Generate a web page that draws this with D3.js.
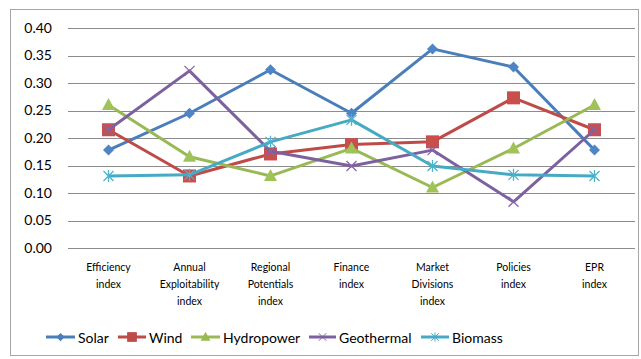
<!DOCTYPE html>
<html>
<head>
<meta charset="utf-8">
<script src="https://cdn.jsdelivr.net/npm/d3@7"></script>
<style>
  html, body { margin: 0; padding: 0; background: #fff; }
  svg { display: block; }
  text { font-family: Lato, "Open Sans", sans-serif; fill: #000; }
</style>
</head>
<body>
<svg id="chart" width="641" height="359"></svg>
<script>
const categories = [
  ["Efficiency", "index"],
  ["Annual", "Exploitability", "index"],
  ["Regional", "Potentials", "index"],
  ["Finance", "index"],
  ["Market", "Divisions", "index"],
  ["Policies", "index"],
  ["EPR", "index"]
];
const seriesNames = ["Solar", "Wind", "Hydropower", "Geothermal", "Biomass"];
const solar      = [0.178, 0.245, 0.324, 0.245, 0.362, 0.329, 0.178];
const wind       = [0.215, 0.131, 0.171, 0.188, 0.193, 0.273, 0.215];
const hydropower = [0.260, 0.166, 0.131, 0.181, 0.110, 0.181, 0.260];
const geothermal = [0.215, 0.322, 0.176, 0.149, 0.178, 0.084, 0.215];
const biomass    = [0.131, 0.133, 0.193, 0.233, 0.149, 0.133, 0.131];
const yTicks = [0, 0.05, 0.10, 0.15, 0.20, 0.25, 0.30, 0.35, 0.40];

const seriesValues = [solar, wind, hydropower, geothermal, biomass];
const colors = ["#4A7EBB", "#BE4B48", "#98B954", "#7D60A0", "#46AAC5"];
const markerTypes = ["diamond", "square", "triangle", "x", "star"];

const svg = d3.select("#chart");

// outer frame
svg.append("rect")
  .attr("x", 10.5).attr("y", 9.5)
  .attr("width", 628).attr("height", 346)
  .attr("fill", "none").attr("stroke", "#A6A6A6").attr("stroke-width", 1);

const plotLeft = 68, plotRight = 635, plotTop = 28, plotBottom = 248;

const x = d3.scalePoint()
  .domain(d3.range(categories.length))
  .range([plotLeft, plotRight])
  .padding(0.5);

const y = d3.scaleLinear().domain([0, 0.4]).range([plotBottom, plotTop]);

// gridlines
svg.append("g")
  .selectAll("line")
  .data(yTicks)
  .join("line")
  .attr("x1", plotLeft).attr("x2", plotRight)
  .attr("y1", d => Math.round(y(d)) + 0.5)
  .attr("y2", d => Math.round(y(d)) + 0.5)
  .attr("stroke", "#8C8C8C").attr("stroke-width", 1);

// y axis labels
const yAxis = d3.axisLeft(y).tickValues(yTicks).tickFormat(d3.format(".2f")).tickSize(0).tickPadding(0);
const yg = svg.append("g").attr("transform", `translate(${plotLeft - 16},0)`).call(yAxis);
yg.select(".domain").remove();
yg.selectAll("text")
  .attr("font-size", 14)
  .attr("font-family", "Lato, 'Open Sans', sans-serif")
  .attr("fill", "#000");

// category labels
const xg = svg.append("g");
categories.forEach((lines, i) => {
  const t = xg.append("text")
    .attr("x", x(i))
    .attr("y", 271)
    .attr("text-anchor", "middle")
    .attr("font-size", 10.5);
  lines.forEach((ln, j) => {
    t.append("tspan").attr("x", x(i)).attr("dy", j === 0 ? 0 : 17).text(ln);
  });
});

function drawMarker(g, type, color, cx, cy) {
  if (type === "diamond") {
    g.append("path")
      .attr("d", `M${cx},${cy - 5.5}L${cx + 5.5},${cy}L${cx},${cy + 5.5}L${cx - 5.5},${cy}Z`)
      .attr("fill", color);
  } else if (type === "square") {
    g.append("rect")
      .attr("x", cx - 6.5).attr("y", cy - 6.5)
      .attr("width", 13).attr("height", 13)
      .attr("fill", color);
  } else if (type === "triangle") {
    g.append("path")
      .attr("d", `M${cx},${cy - 7}L${cx + 6.5},${cy + 5}L${cx - 6.5},${cy + 5}Z`)
      .attr("fill", color);
  } else if (type === "x") {
    g.append("path")
      .attr("d", `M${cx - 5},${cy - 5}L${cx + 5},${cy + 5}M${cx - 5},${cy + 5}L${cx + 5},${cy - 5}`)
      .attr("stroke", color).attr("stroke-width", 1.3).attr("fill", "none");
  } else if (type === "star") {
    g.append("path")
      .attr("d", `M${cx - 5},${cy - 5}L${cx + 5},${cy + 5}M${cx - 5},${cy + 5}L${cx + 5},${cy - 5}M${cx},${cy - 6}L${cx},${cy + 6}`)
      .attr("stroke", color).attr("stroke-width", 1.3).attr("fill", "none");
  }
}

const line = d3.line().x((d, i) => x(i)).y(d => y(d));

seriesValues.forEach((vals, s) => {
  const g = svg.append("g");
  g.append("path")
    .datum(vals)
    .attr("d", line)
    .attr("fill", "none")
    .attr("stroke", colors[s])
    .attr("stroke-width", 3)
    .attr("stroke-linejoin", "round");
  vals.forEach((v, i) => drawMarker(g, markerTypes[s], d3.color(colors[s]).brighter(0.15).formatHex(), x(i), y(v)));
});

// legend
const legendItems = [
  { lx: 46, tx: 78 },
  { lx: 118, tx: 149 },
  { lx: 191, tx: 223 },
  { lx: 309, tx: 339 },
  { lx: 421, tx: 452 }
];
const ly = 337;
seriesNames.forEach((name, s) => {
  const it = legendItems[s];
  const g = svg.append("g");
  g.append("line")
    .attr("x1", it.lx).attr("x2", it.tx - 3)
    .attr("y1", ly).attr("y2", ly)
    .attr("stroke", colors[s]).attr("stroke-width", 3);
  const mx = (it.lx + it.tx - 3) / 2;
  const mg = g.append("g").attr("transform", `translate(${mx},${ly}) scale(0.75) translate(${-mx},${-ly})`);
  drawMarker(mg, markerTypes[s], colors[s], mx, ly);
  g.append("text")
    .attr("x", it.tx).attr("y", ly + 5.5)
    .attr("font-size", 14)
    .text(name);
});
</script>
</body>
</html>
